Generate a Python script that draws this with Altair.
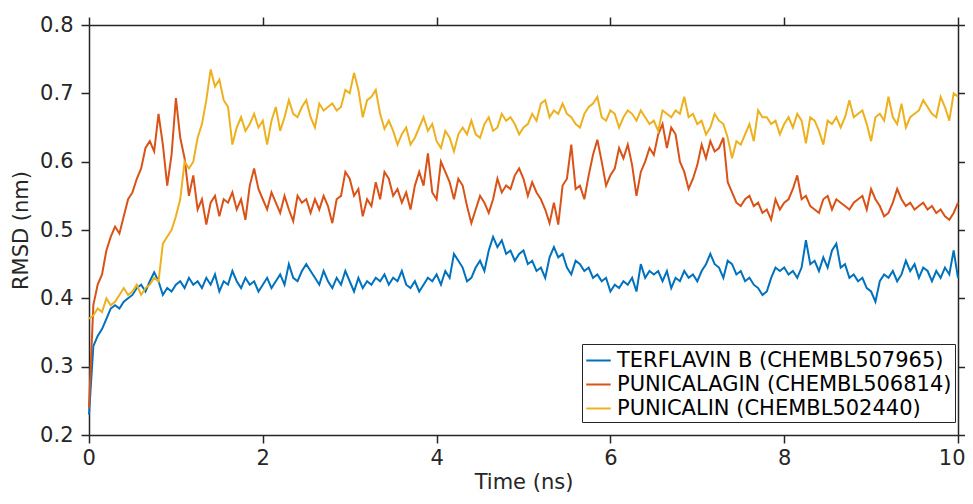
import altair as alt
import pandas as pd
import numpy as np

series_names = [
    "TERFLAVIN B (CHEMBL507965)",
    "PUNICALAGIN (CHEMBL506814)",
    "PUNICALIN (CHEMBL502440)",
]
series_colors = ["#0072BD", "#D95319", "#EDB120"]

# time grid (ns), 0.05 ns sampling
time_ns = np.round(np.arange(0, 201) * 0.05, 2)

terflavin_b = [
    0.23, 0.33, 0.345, 0.355, 0.37, 0.385, 0.39, 0.385, 0.395, 0.40,
    0.405, 0.415, 0.42, 0.41, 0.425, 0.438, 0.425, 0.405, 0.415, 0.41,
    0.42, 0.425, 0.415, 0.43, 0.42, 0.425, 0.415, 0.43, 0.42, 0.435,
    0.41, 0.425, 0.42, 0.44, 0.425, 0.415, 0.43, 0.42, 0.425, 0.41,
    0.42, 0.43, 0.415, 0.425, 0.435, 0.42, 0.45, 0.43, 0.425, 0.44,
    0.45, 0.44, 0.43, 0.42, 0.44, 0.425, 0.415, 0.43, 0.42, 0.44,
    0.425, 0.41, 0.43, 0.415, 0.425, 0.42, 0.43, 0.425, 0.435, 0.42,
    0.43, 0.425, 0.44, 0.42, 0.415, 0.425, 0.41, 0.42, 0.43, 0.425,
    0.435, 0.42, 0.44, 0.43, 0.465, 0.455, 0.445, 0.425, 0.43, 0.445,
    0.455, 0.44, 0.47, 0.49, 0.475, 0.485, 0.465, 0.47, 0.455, 0.465,
    0.47, 0.45, 0.455, 0.44, 0.445, 0.43, 0.46, 0.475, 0.46, 0.465,
    0.445, 0.435, 0.455, 0.45, 0.44, 0.445, 0.43, 0.435, 0.425, 0.43,
    0.41, 0.42, 0.415, 0.425, 0.42, 0.43, 0.41, 0.45, 0.43, 0.44,
    0.435, 0.44, 0.425, 0.44, 0.415, 0.43, 0.425, 0.44, 0.43, 0.435,
    0.425, 0.44, 0.45, 0.465, 0.45, 0.445, 0.43, 0.455, 0.45, 0.435,
    0.44, 0.425, 0.43, 0.42, 0.415, 0.405, 0.41, 0.43, 0.445, 0.44,
    0.445, 0.435, 0.44, 0.43, 0.445, 0.485, 0.45, 0.455, 0.44, 0.46,
    0.445, 0.47, 0.48, 0.445, 0.45, 0.43, 0.435, 0.425, 0.43, 0.415,
    0.41, 0.395, 0.425, 0.435, 0.43, 0.44, 0.425, 0.435, 0.455, 0.44,
    0.45, 0.43, 0.445, 0.44, 0.425, 0.44, 0.43, 0.445, 0.435, 0.47,
    0.43,
]

punicalagin = [
    0.24, 0.39, 0.42, 0.435, 0.47, 0.49, 0.505, 0.495, 0.52, 0.545,
    0.555, 0.575, 0.59, 0.62, 0.63, 0.615, 0.67, 0.625, 0.565, 0.61,
    0.693, 0.635, 0.605, 0.55, 0.58, 0.53, 0.545, 0.508, 0.54, 0.55,
    0.52, 0.545, 0.54, 0.555, 0.53, 0.545, 0.515, 0.565, 0.59, 0.56,
    0.545, 0.53, 0.555, 0.54, 0.525, 0.55, 0.53, 0.513, 0.55, 0.54,
    0.545, 0.525, 0.545, 0.53, 0.55, 0.535, 0.51, 0.545, 0.55, 0.585,
    0.575, 0.55, 0.56, 0.52, 0.545, 0.535, 0.57, 0.545, 0.585, 0.575,
    0.55, 0.56, 0.54, 0.555, 0.53, 0.565, 0.585, 0.565, 0.612, 0.555,
    0.545, 0.60, 0.585, 0.57, 0.545, 0.575, 0.565, 0.535, 0.51, 0.53,
    0.55, 0.54, 0.525, 0.545, 0.575, 0.555, 0.565, 0.56, 0.58, 0.59,
    0.575, 0.55, 0.57, 0.555, 0.545, 0.53, 0.51, 0.54, 0.508, 0.565,
    0.575, 0.625, 0.56, 0.565, 0.545, 0.58, 0.61, 0.632, 0.60, 0.565,
    0.58, 0.59, 0.62, 0.605, 0.625, 0.595, 0.55, 0.585, 0.60, 0.62,
    0.61, 0.64, 0.655, 0.62, 0.65, 0.64, 0.60, 0.585, 0.56, 0.575,
    0.595, 0.625, 0.605, 0.63, 0.615, 0.62, 0.635, 0.57, 0.555, 0.54,
    0.535, 0.545, 0.55, 0.535, 0.54, 0.525, 0.53, 0.515, 0.545, 0.53,
    0.54, 0.545, 0.56, 0.58, 0.545, 0.55, 0.535, 0.53, 0.525, 0.545,
    0.55, 0.53, 0.545, 0.54, 0.535, 0.53, 0.54, 0.545, 0.55, 0.53,
    0.56, 0.545, 0.535, 0.52, 0.525, 0.54, 0.56, 0.545, 0.535, 0.54,
    0.53, 0.535, 0.54, 0.53, 0.535, 0.525, 0.53, 0.52, 0.515, 0.525,
    0.54,
]

punicalin = [
    0.37, 0.375, 0.385, 0.38, 0.40, 0.39, 0.395, 0.405, 0.415, 0.405,
    0.41, 0.42, 0.405, 0.415, 0.42, 0.43, 0.425, 0.48, 0.49, 0.50,
    0.52, 0.545, 0.60, 0.59, 0.60, 0.635, 0.655, 0.69, 0.735, 0.71,
    0.72, 0.69, 0.68, 0.625, 0.65, 0.665, 0.645, 0.655, 0.67, 0.65,
    0.66, 0.625, 0.66, 0.68, 0.645, 0.665, 0.69, 0.67, 0.665, 0.68,
    0.69, 0.665, 0.65, 0.685, 0.675, 0.68, 0.685, 0.675, 0.68, 0.705,
    0.70, 0.73, 0.705, 0.665, 0.69, 0.695, 0.705, 0.67, 0.648, 0.66,
    0.645, 0.625, 0.64, 0.65, 0.625, 0.635, 0.65, 0.665, 0.645, 0.655,
    0.63, 0.62, 0.645, 0.635, 0.615, 0.64, 0.65, 0.64, 0.66, 0.64,
    0.635, 0.655, 0.665, 0.645, 0.65, 0.67, 0.66, 0.665, 0.655, 0.64,
    0.65, 0.655, 0.67, 0.66, 0.685, 0.69, 0.665, 0.675, 0.67, 0.685,
    0.67, 0.665, 0.655, 0.65, 0.67, 0.68, 0.685, 0.695, 0.665, 0.66,
    0.675, 0.67, 0.65, 0.665, 0.675, 0.67, 0.66, 0.675, 0.665, 0.655,
    0.66, 0.645, 0.675, 0.67, 0.665, 0.675, 0.67, 0.695, 0.665, 0.67,
    0.655, 0.66, 0.64, 0.65, 0.67, 0.66, 0.655, 0.635, 0.605, 0.63,
    0.625, 0.64, 0.655, 0.63, 0.675, 0.665, 0.665, 0.655, 0.66, 0.64,
    0.655, 0.665, 0.65, 0.67, 0.66, 0.627, 0.665, 0.66, 0.645, 0.625,
    0.66, 0.655, 0.665, 0.65, 0.665, 0.69, 0.665, 0.67, 0.675, 0.655,
    0.63, 0.665, 0.67, 0.66, 0.695, 0.665, 0.655, 0.685, 0.65, 0.665,
    0.67, 0.675, 0.69, 0.68, 0.67, 0.665, 0.695, 0.68, 0.66, 0.70,
    0.695,
]

x_ticks = [0, 2, 4, 6, 8, 10]
y_ticks = [0.2, 0.3, 0.4, 0.5, 0.6, 0.7, 0.8]

frames = []
for name, vals in zip(series_names, [terflavin_b, punicalagin, punicalin]):
    frames.append(pd.DataFrame({"t": time_ns, "rmsd": vals, "series": name}))
df = pd.concat(frames, ignore_index=True)

FONT = "DejaVu Sans"
INK = "#262626"

common_axis = dict(
    grid=False, domainColor=INK, domainWidth=1.5, tickColor=INK, tickWidth=1.5,
    tickSize=8, labelColor=INK, labelFont=FONT, labelFontSize=21,
    titleColor=INK, titleFont=FONT, titleFontSize=21, titleFontWeight="normal",
)

xs = alt.Scale(domain=[0, 10], nice=False, zero=False)
ys = alt.Scale(domain=[0.2, 0.8], nice=False, zero=False)

lines = alt.Chart(df).mark_line(strokeWidth=2).encode(
    x=alt.X("t:Q", scale=xs, axis=alt.Axis(orient="bottom", values=x_ticks, title="Time (ns)",
                                            labelPadding=4, labelFlush=True, labelFlushOffset=7,
                                            titleBaseline="alphabetic", titleY=53,
                                            **common_axis)),
    y=alt.Y("rmsd:Q", scale=ys, axis=alt.Axis(orient="left", values=y_ticks, title="RMSD (nm)",
                                               format=".1f", labelPadding=8, labelFlush=False,
                                               titlePadding=8, **common_axis)),
    color=alt.Color("series:N", scale=alt.Scale(domain=series_names, range=series_colors),
                    sort=series_names,
                    legend=alt.Legend(orient="none", legendX=493, legendY=319, title=None,
                                      symbolType="stroke", symbolSize=600, symbolStrokeWidth=2,
                                      labelFont=FONT, labelFontSize=21, labelColor="#000000",
                                      labelLimit=0, labelOffset=5, rowPadding=0, padding=3,
                                      strokeColor=INK, fillColor="white")),
    detail="series:N",
)

frame = alt.Chart(df).mark_line(strokeOpacity=0).encode(
    x=alt.X("t:Q", scale=xs, axis=alt.Axis(orient="top", values=x_ticks, labels=False, title=None, **common_axis)),
    y=alt.Y("rmsd:Q", scale=ys, axis=alt.Axis(orient="right", values=y_ticks, labels=False, title=None, **common_axis)),
    detail="series:N",
)

chart = alt.layer(lines, frame).resolve_axis(x="independent", y="independent").properties(
    width=869, height=410,
    autosize=alt.AutoSizeParams(type="none"),
    padding={"left": 81, "top": 17, "right": 7, "bottom": 60},
).configure_view(stroke=None).configure(background="white")

chart.save("out.html", embed_options={"renderer": "svg", "actions": False})
